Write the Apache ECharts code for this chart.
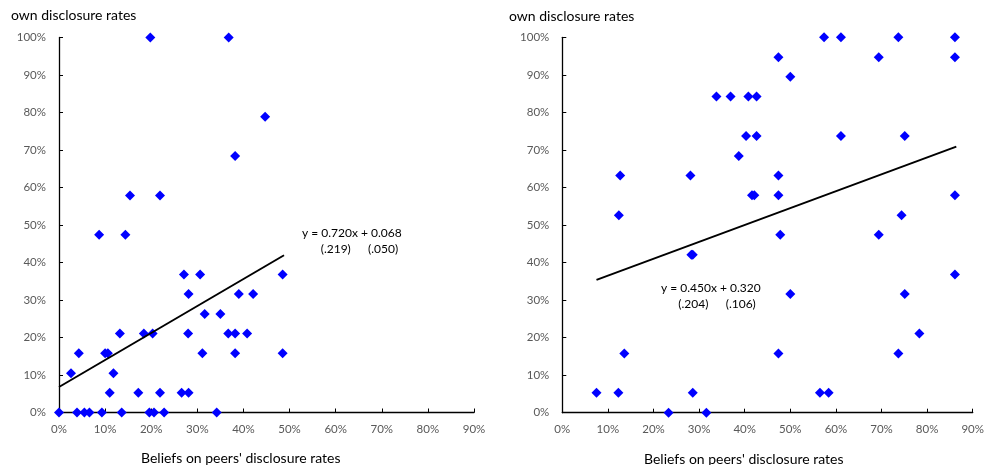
<!DOCTYPE html>
<html>
<head>
<meta charset="utf-8">
<script src="https://cdn.jsdelivr.net/npm/echarts@6/dist/echarts.min.js"></script>
<style>html,body{margin:0;padding:0;background:#fff}#c{width:987px;height:465px}</style>
</head>
<body>
<div id="c"></div>
<script>
// Tick labels
const xTicks = [0, 10, 20, 30, 40, 50, 60, 70, 80, 90];
const yTicks = [0, 10, 20, 30, 40, 50, 60, 70, 80, 90, 100];
// Left panel: beliefs on peers (x, %) and own disclosure (y, %)
const leftX = [19.8,36.8,44.7,38.2,15.4,21.9,8.7,14.4,
  27.1,30.6,48.5,
  28.1,39.0,42.1,
  31.6,35.0,
  13.2,18.4,20.3,28.0,36.7,38.2,40.8,
  4.3,10.0,10.6,31.1,38.2,48.5,
  2.6,11.8,
  11.0,17.2,21.9,26.6,28.1,
  0,3.9,5.5,6.6,9.3,13.6,19.6,20.6,22.8,34.2];
const leftY = [100,100,78.9,68.4,57.9,57.9,47.4,47.4,
  36.8,36.8,36.8,
  31.6,31.6,31.6,
  26.3,26.3,
  21.1,21.1,21.1,21.1,21.1,21.1,21.1,
  15.8,15.8,15.8,15.8,15.8,15.8,
  10.5,10.5,
  5.3,5.3,5.3,5.3,5.3,
  0,0,0,0,0,0,0,0,0,0];
// Right panel
const rightX = [57.4,61.1,73.7,86.1,
  47.4,69.4,86.1,
  50.0,
  33.8,36.9,40.8,42.6,
  40.3,42.6,61.1,75.1,
  38.7,
  12.7,28.1,47.4,
  41.6,42.1,47.4,86.1,
  12.4,74.4,
  47.8,69.4,
  28.3,28.6,
  86.1,
  50.0,75.1,
  78.3,
  13.6,47.4,73.7,
  7.5,12.3,28.6,56.5,58.4,
  23.3,31.6];
const rightY = [100,100,100,100,
  94.7,94.7,94.7,
  89.5,
  84.2,84.2,84.2,84.2,
  73.7,73.7,73.7,73.7,
  68.4,
  63.2,63.2,63.2,
  57.9,57.9,57.9,57.9,
  52.6,52.6,
  47.4,47.4,
  42.1,42.1,
  36.8,
  31.6,31.6,
  21.1,
  15.8,15.8,15.8,
  5.3,5.3,5.3,5.3,5.3,
  0,0];
// Fitted lines: slope, intercept (in %), standard errors
const leftFit = {slope: 0.720, intercept: 6.8, label: 'y = 0.720x + 0.068', se1: '(.219)', se2: '(.050)'};
const rightFit = {slope: 0.450, intercept: 32.0, label: 'y = 0.450x + 0.320', se1: '(.204)', se2: '(.106)'};
const yTitle = 'own disclosure rates';
const xTitle = "Beliefs on peers' disclosure rates";

function zip(xs, ys) { return xs.map((x, i) => [x, ys[i]]); }
function fitLine(xs, f) {
  const lo = Math.min(...xs), hi = Math.max(...xs) + 0.3;
  return [[lo, f.intercept + f.slope * lo], [hi, f.intercept + f.slope * hi]];
}

const FONT = 'Lato';
const tickLabel = {color: '#595959', fontSize: 11.5, fontFamily: FONT};

function xAxis(gi) {
  return {
    gridIndex: gi, type: 'value', min: 0, max: 90, interval: 10,
    axisLine: {show: true, onZero: false, lineStyle: {color: '#000', width: 1.3}},
    axisTick: {show: true, inside: true, length: 4, lineStyle: {color: '#000', width: 1}},
    axisLabel: Object.assign({formatter: '{value}%', margin: 11}, tickLabel),
    splitLine: {show: false}
  };
}
function yAxis(gi) {
  return {
    gridIndex: gi, type: 'value', min: 0, max: 100, interval: 10,
    axisLine: {show: true, onZero: false, lineStyle: {color: '#000', width: 1.3}},
    axisTick: {show: true, inside: true, length: 4, lineStyle: {color: '#000', width: 1}},
    axisLabel: Object.assign({formatter: '{value}%', margin: 13}, tickLabel),
    splitLine: {show: false}
  };
}
function scatter(gi, data) {
  return {type: 'scatter', xAxisIndex: gi, yAxisIndex: gi, data: data, symbol: 'diamond',
    symbolSize: 10, itemStyle: {color: '#0000FF', opacity: 1}, z: 3, silent: true, animation: false};
}
function line(gi, data) {
  return {type: 'line', xAxisIndex: gi, yAxisIndex: gi, data: data, symbol: 'none',
    lineStyle: {color: '#000', width: 2}, z: 4, silent: true, animation: false};
}
function txt(x, y, s, size, align) {
  return {type: 'text', left: x, top: y - size * 0.62,
    style: {text: s, fill: '#000', font: size + 'px ' + FONT, textAlign: align || 'left'}};
}

const chart = echarts.init(document.getElementById('c'), null, {renderer: 'canvas'});
chart.setOption({
  animation: false,
  grid: [
    {left: 59, top: 37.5, width: 415, height: 375},
    {left: 562.3, top: 37.3, width: 415.2, height: 375.4}
  ],
  xAxis: [xAxis(0), xAxis(1)],
  yAxis: [yAxis(0), yAxis(1)],
  series: [
    line(0, fitLine(leftX, leftFit)),
    scatter(0, zip(leftX, leftY)),
    line(1, fitLine(rightX, rightFit)),
    scatter(1, zip(rightX, rightY))
  ],
  graphic: [
    txt(11, 17.5, yTitle, 14),
    txt(509, 18, yTitle, 14),
    {type: 'text', left: 236 - 95, top: 451, style: {text: xTitle, fill: '#000', font: '14px ' + FONT}},
    {type: 'text', left: 739 - 95, top: 452, style: {text: xTitle, fill: '#000', font: '14px ' + FONT}},
    txt(302, 235, leftFit.label, 12),
    txt(320.7, 251, leftFit.se1, 12),
    txt(368, 251, leftFit.se2, 12),
    txt(661, 290, rightFit.label, 12),
    txt(678.3, 306, rightFit.se1, 12),
    txt(725.7, 306, rightFit.se2, 12)
  ]
});
</script>
</body>
</html>
